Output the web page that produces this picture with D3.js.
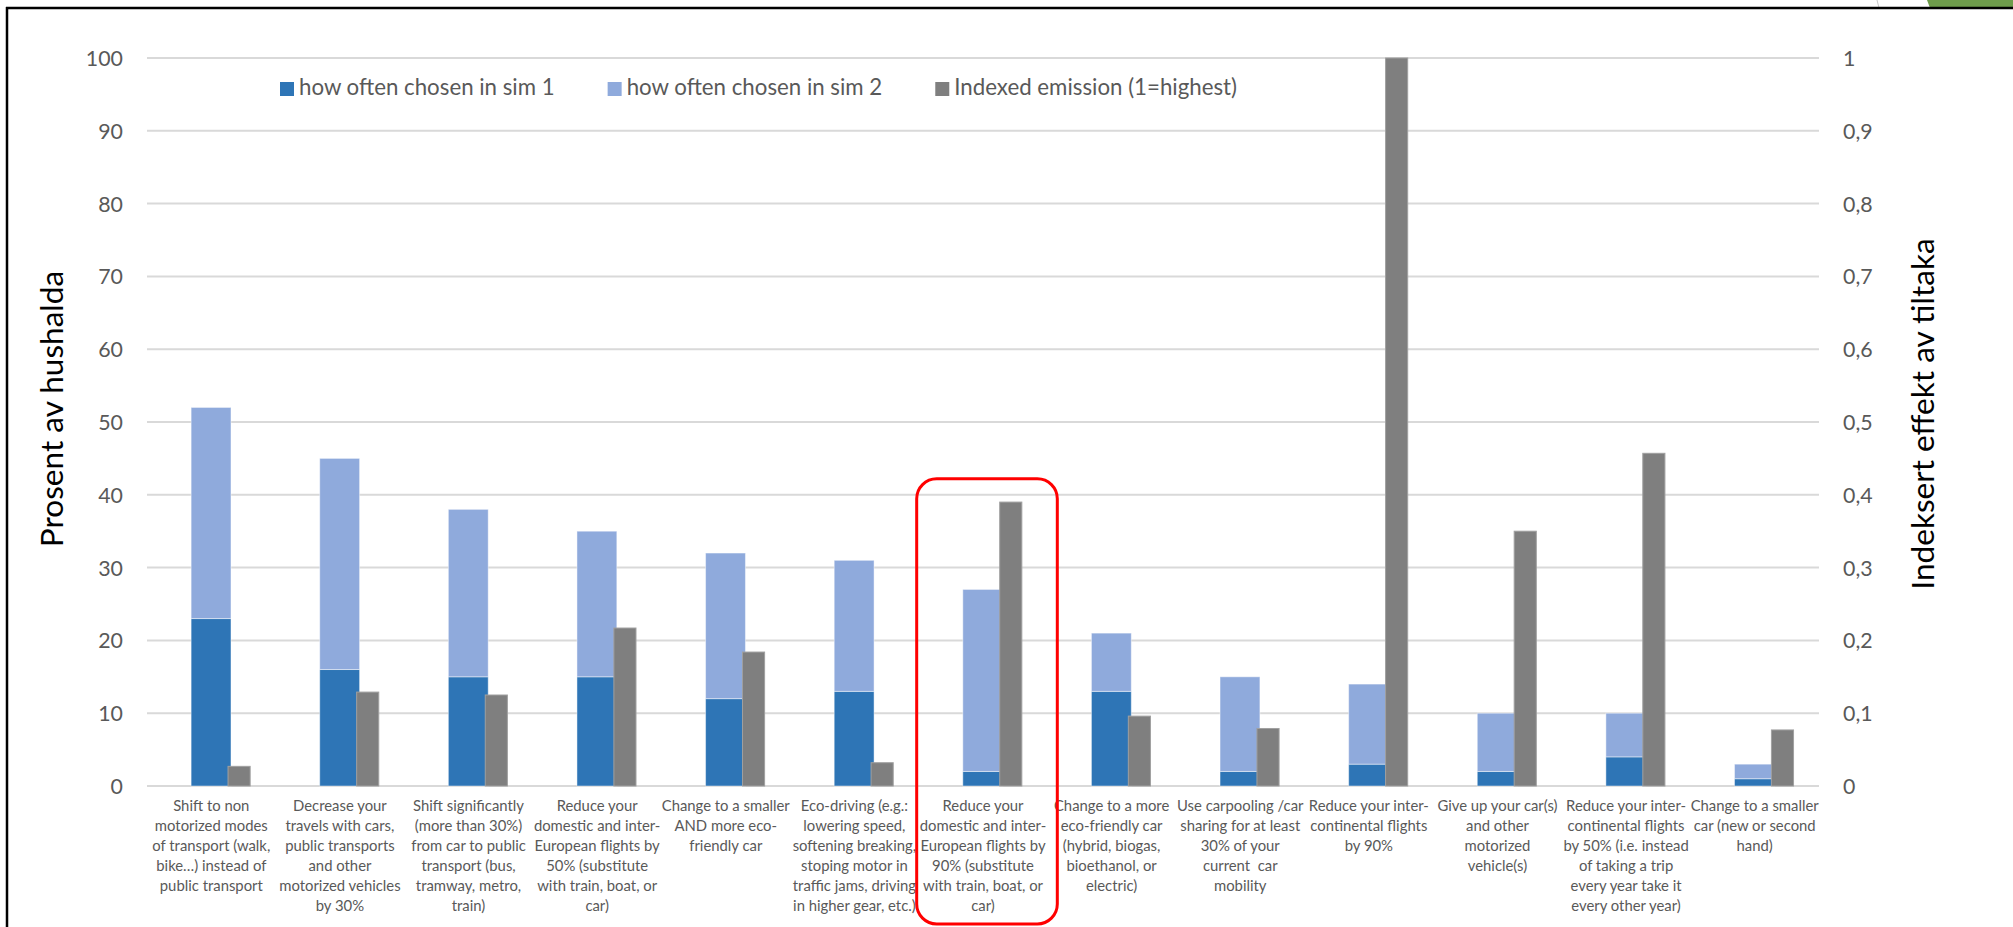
<!DOCTYPE html>
<html>
<head>
<meta charset="utf-8">
<script src="https://cdn.jsdelivr.net/npm/d3@7"></script>
<style>
  html, body { margin: 0; padding: 0; background: #fff; }
  svg { display: block; font-family: Lato, "Open Sans", sans-serif; }
</style>
</head>
<body>
<svg id="chart" width="2013" height="927"></svg>
<script>
// ---------- data ----------
const categories = [
  "Shift to non\nmotorized modes\nof transport (walk,\nbike\u2026) instead of\npublic transport",
  "Decrease your\ntravels with cars,\npublic transports\nand other\nmotorized vehicles\nby 30%",
  "Shift significantly\n(more than 30%)\nfrom car to public\ntransport (bus,\ntramway, metro,\ntrain)",
  "Reduce your\ndomestic and inter-\nEuropean flights by\n50% (substitute\nwith train, boat, or\ncar)",
  "Change to a smaller\nAND more eco-\nfriendly car",
  "Eco-driving (e.g.:\nlowering speed,\nsoftening breaking,\nstoping motor in\ntraffic jams, driving\nin higher gear, etc.)",
  "Reduce your\ndomestic and inter-\nEuropean flights by\n90% (substitute\nwith train, boat, or\ncar)",
  "Change to a more\neco-friendly car\n(hybrid, biogas,\nbioethanol, or\nelectric)",
  "Use carpooling /car\nsharing for at least\n30% of your\ncurrent  car\nmobility",
  "Reduce your inter-\ncontinental flights\nby 90%",
  "Give up your car(s)\nand other\nmotorized\nvehicle(s)",
  "Reduce your inter-\ncontinental flights\nby 50% (i.e. instead\nof taking a trip\nevery year take it\nevery other year)",
  "Change to a smaller\ncar (new or second\nhand)"
];
const sim1 = [23, 16, 15, 15, 12, 13, 2, 13, 2, 3, 2, 4, 1];
const sim2 = [29, 29, 23, 20, 20, 18, 25, 8, 13, 11, 8, 6, 2];
const emission = [0.027, 0.129, 0.125, 0.217, 0.184, 0.032, 0.39, 0.096, 0.079, 1.0, 0.35, 0.457, 0.077];
const seriesNames = ["how often chosen in sim 1", "how often chosen in sim 2", "Indexed emission (1=highest)"];
const leftTicks = [0, 10, 20, 30, 40, 50, 60, 70, 80, 90, 100];
const rightTicks = [0, 0.1, 0.2, 0.3, 0.4, 0.5, 0.6, 0.7, 0.8, 0.9, 1];
const rightTickLabels = ["0", "0,1", "0,2", "0,3", "0,4", "0,5", "0,6", "0,7", "0,8", "0,9", "1"];
const leftTitle = "Prosent av hushalda";
const rightTitle = "Indeksert effekt av tiltaka";
const highlightIndex = 6;

// ---------- setup ----------
const colors = ["#2E75B6", "#8FAADC", "#7F7F7F"];
const textGray = "#595959";
const svg = d3.select("#chart");
svg.append("rect").attr("width", 2013).attr("height", 927).attr("fill", "#fff");

// font calibration: match Calibri widths using Lato
const probe = svg.append("text").attr("font-size", 100).text(seriesNames[0]);
const measured = probe.node().getComputedTextLength();
probe.remove();
const k = measured > 0 ? 1065.6 / measured : 0.95;
const fs = p => (p * k).toFixed(2) + "px";

const plot = { left: 147, right: 1819, top: 58, bottom: 786 };
const rows = categories.map((c, i) => ({ cat: c, sim1: sim1[i], sim2: sim2[i], emission: emission[i] }));

const x = d3.scaleBand().domain(categories).range([plot.left, plot.right]).paddingInner(0).paddingOuter(0);
const yL = d3.scaleLinear().domain([0, 100]).range([plot.bottom, plot.top]);
const yR = d3.scaleLinear().domain([0, 1]).range([plot.bottom, plot.top]);
const bw = x.bandwidth();

// ---------- frame decoration ----------
svg.append("path").attr("d", "M1927,0 L2013,0 L2013,8 L1930,8 Z").attr("fill", "#6E9C4B");
svg.append("path").attr("d", "M1877,0 Q1878,4 1879,8").attr("stroke", "#C8C8C8").attr("stroke-width", 1).attr("fill", "none");
svg.append("line").attr("x1", 6).attr("x2", 2013).attr("y1", 8).attr("y2", 8).attr("stroke", "#000").attr("stroke-width", 2.5);
svg.append("line").attr("x1", 7).attr("x2", 7).attr("y1", 7).attr("y2", 927).attr("stroke", "#000").attr("stroke-width", 2.5);

// ---------- gridlines ----------
svg.append("g").selectAll("line").data(leftTicks).join("line")
  .attr("x1", plot.left).attr("x2", plot.right)
  .attr("y1", d => yL(d)).attr("y2", d => yL(d))
  .attr("stroke", "#D9D9D9").attr("stroke-width", 2);

// ---------- left axis ----------
const leftAxis = d3.axisLeft(yL).tickValues(leftTicks).tickSize(0).tickPadding(0).tickFormat(d3.format("d"));
const gL = svg.append("g").attr("transform", `translate(${plot.left - 24},0)`).call(leftAxis);
gL.select(".domain").remove();
gL.selectAll("text").attr("font-size", fs(23)).attr("fill", textGray).attr("font-family", "Lato").attr("dy", "0.35em");

// ---------- right axis ----------
const rightAxis = d3.axisRight(yR).tickValues(rightTicks).tickSize(0).tickPadding(0)
  .tickFormat((d, i) => rightTickLabels[i]);
const gR = svg.append("g").attr("transform", `translate(${plot.right + 24},0)`).call(rightAxis);
gR.select(".domain").remove();
gR.selectAll("text").attr("font-size", fs(23)).attr("fill", textGray).attr("font-family", "Lato").attr("dy", "0.35em");

// ---------- stacked bars ----------
const stack = d3.stack().keys(["sim1", "sim2"]);
const stacked = stack(rows);
svg.append("g").selectAll("g").data(stacked).join("g")
  .attr("fill", (d, i) => colors[i])
  .selectAll("rect").data(d => d).join("rect")
  .attr("x", d => x(d.data.cat) + bw / 2 - 0.157 * bw)
  .attr("width", 0.31 * bw)
  .attr("y", d => yL(d[1]))
  .attr("height", d => yL(d[0]) - yL(d[1]))
  .attr("stroke", "rgba(255,255,255,0.45)").attr("stroke-width", 1);

// ---------- emission bars (secondary axis) ----------
svg.append("g").selectAll("rect").data(rows).join("rect")
  .attr("x", d => x(d.cat) + bw / 2 + 0.13 * bw)
  .attr("width", 0.172 * bw)
  .attr("y", d => yR(d.emission))
  .attr("height", d => yR(0) - yR(d.emission))
  .attr("fill", colors[2]).attr("stroke", "#A0A0A0").attr("stroke-width", 1);

// ---------- category labels ----------
const xAxis = d3.axisBottom(x).tickSize(0).tickFormat("");
const gX = svg.append("g").attr("transform", `translate(0,${plot.bottom})`).call(xAxis);
gX.select(".domain").remove();
const catG = svg.append("g").attr("font-size", fs(16)).attr("fill", textGray).attr("text-anchor", "middle");
catG.selectAll("text").data(categories).join("text")
  .attr("x", d => x(d) + bw / 2)
  .attr("y", 811)
  .each(function (d) {
    const lines = d.split("\n");
    d3.select(this).selectAll("tspan").data(lines).join("tspan")
      .attr("x", x(d) + bw / 2)
      .attr("dy", (l, i) => i === 0 ? 0 : 20)
      .attr("xml:space", "preserve")
      .text(l => l);
  });

// ---------- axis titles ----------
svg.append("text").attr("transform", "translate(63,409) rotate(-90)")
  .attr("text-anchor", "middle").attr("font-size", fs(34)).attr("fill", "#000").text(leftTitle);
svg.append("text").attr("transform", "translate(1934,414) rotate(-90)")
  .attr("text-anchor", "middle").attr("font-size", fs(34)).attr("fill", "#000").text(rightTitle);

// ---------- legend ----------
const legend = svg.append("g").attr("transform", "translate(280,82)");
let lx = 0;
seriesNames.forEach((name, i) => {
  const g = legend.append("g").attr("transform", `translate(${lx},0)`);
  g.append("rect").attr("width", 14).attr("height", 14).attr("fill", colors[i]);
  const t = g.append("text").attr("x", 19).attr("y", 13).attr("font-size", fs(24)).attr("fill", textGray).text(name);
  lx += 19 + t.node().getComputedTextLength() + 53;
});

// ---------- highlight box ----------
const hc = categories[highlightIndex];
svg.append("rect")
  .attr("x", x(hc) - 2).attr("y", yL(42.2))
  .attr("width", bw + 12).attr("height", 924 - yL(42.2))
  .attr("rx", 20).attr("ry", 20)
  .attr("fill", "none").attr("stroke", "#FF0000").attr("stroke-width", 3);
</script>
</body>
</html>
